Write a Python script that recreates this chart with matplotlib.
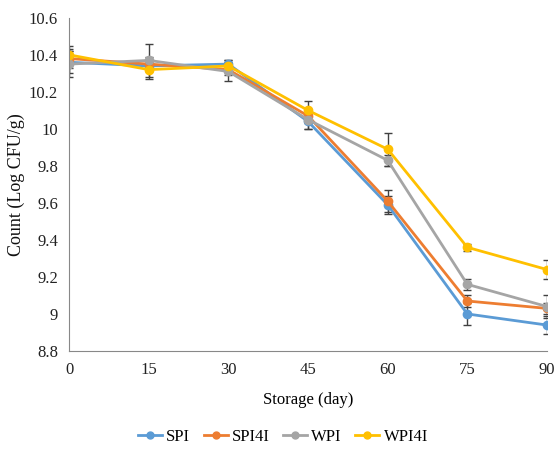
import matplotlib
matplotlib.use("Agg")
import matplotlib.pyplot as plt
from matplotlib.lines import Line2D

days = [0, 15, 30, 45, 60, 75, 90]
series_names = ["SPI", "SPI4I", "WPI", "WPI4I"]
spi = [10.36, 10.34, 10.35, 10.04, 9.59, 9.00, 8.94]
spi4i = [10.38, 10.35, 10.32, 10.07, 9.61, 9.07, 9.03]
wpi = [10.35, 10.37, 10.31, 10.05, 9.83, 9.16, 9.04]
wpi4i = [10.40, 10.32, 10.34, 10.10, 9.89, 9.36, 9.24]
spi_err = [0.06, 0.03, 0.02, 0.04, 0.05, 0.06, 0.05]
spi4i_err = [0.05, 0.04, 0.03, 0.04, 0.06, 0.03, 0.03]
wpi_err = [0.07, 0.09, 0.05, 0.05, 0.03, 0.03, 0.06]
wpi4i_err = [0.05, 0.05, 0.03, 0.05, 0.09, 0.02, 0.05]
colors = ["#5B9BD5", "#ED7D31", "#A5A5A5", "#FFC000"]
yticks = [8.8, 9, 9.2, 9.4, 9.6, 9.8, 10, 10.2, 10.4, 10.6]
ytick_labels = ["8.8", "9", "9.2", "9.4", "9.6", "9.8", "10", "10.2", "10.4", "10.6"]

plt.rcParams['font.family'] = ['Liberation Serif', 'DejaVu Serif']
fig = plt.figure(figsize=(5.57, 4.57), dpi=100)
ax = fig.add_axes([0.124, 0.232, 0.858, 0.729])

handles = []
for name, vals, errs, c in zip(series_names, [spi, spi4i, wpi, wpi4i],
                               [spi_err, spi4i_err, wpi_err, wpi4i_err], colors):
    ax.errorbar(days, vals, yerr=errs, color=c, marker='o', markersize=6,
                linewidth=2, ecolor='#404040', elinewidth=1, capsize=3,
                capthick=1)
    handles.append(Line2D([], [], color=c, marker='o', markersize=5,
                          linewidth=2, label=name))

ax.set_xlim(0, 90)
ax.set_ylim(8.8, 10.6)
ax.set_xticks(days)
ax.set_xticklabels([str(d) for d in days])
ax.set_yticks(yticks)
ax.set_yticklabels(ytick_labels)
ax.tick_params(length=0, labelsize=12, colors='#222222', pad=8)
for s in ['top', 'right']:
    ax.spines[s].set_visible(False)
for s in ['left', 'bottom']:
    ax.spines[s].set_color('#888888')
ax.set_xlabel("Storage (day)", fontsize=12, labelpad=10)
ax.set_ylabel("Count (Log CFU/g)", fontsize=13, color='#111111', labelpad=3)

fig.legend(handles=handles, loc='center', bbox_to_anchor=(0.508, 0.044), ncol=4,
           frameon=False, fontsize=12, handlelength=1.45, columnspacing=0.8,
           handletextpad=0.25)
fig.savefig("out.png", dpi=100)
